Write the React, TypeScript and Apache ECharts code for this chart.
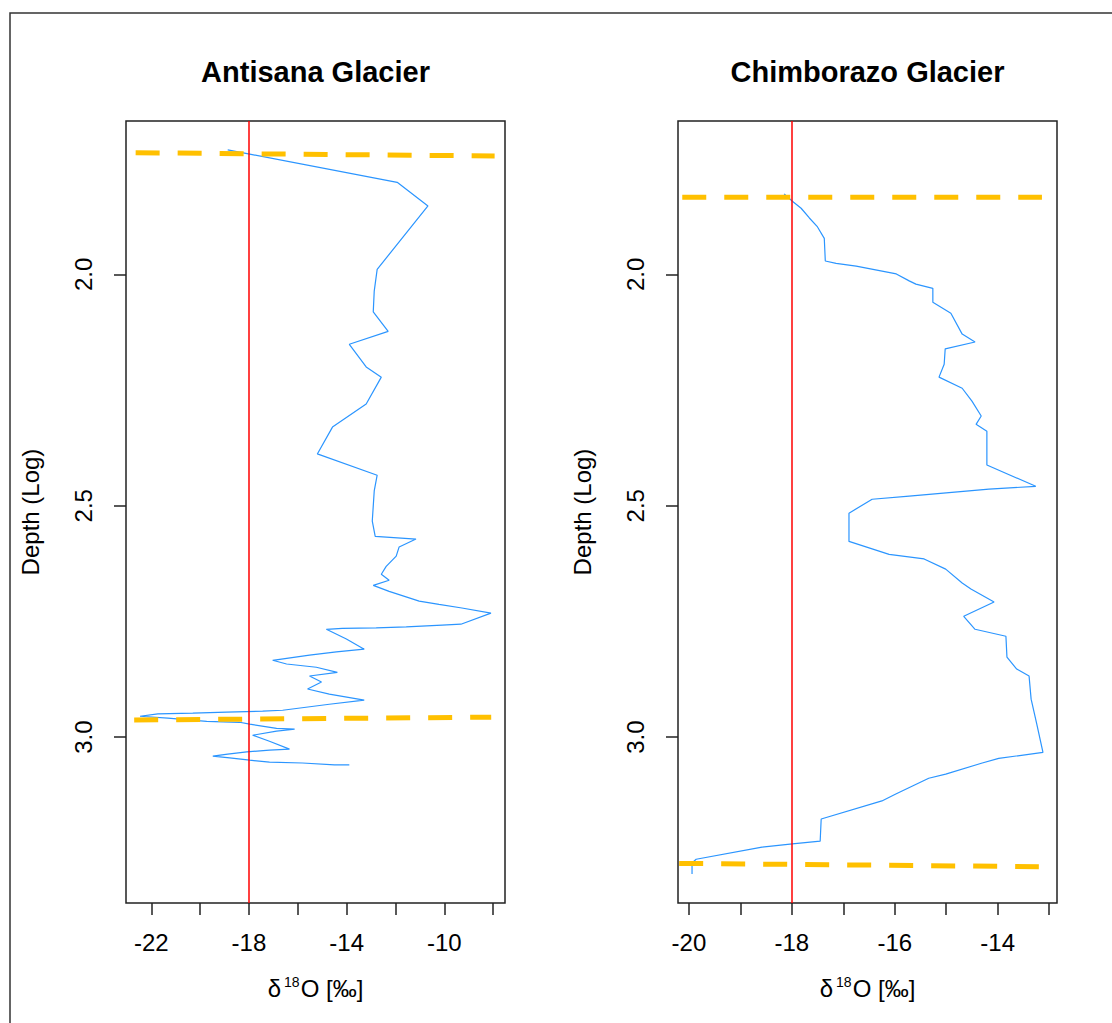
import React, { useEffect, useRef } from "react";
import * as echarts from "echarts";

const FONT = '"Liberation Sans", Arial, Helvetica, sans-serif';

const panelTitles = ["Antisana Glacier", "Chimborazo Glacier"];
const depthAxisName = "Depth (Log)";
const isotopeAxisName = "{d|δ}{s|18}{d|O [‰]}";

// Antisana Glacier profile (δ18O ‰, log depth)
const antisanaD18O = [
  -18.87, -17.97, -11.93, -10.67, -12.75, -12.87, -12.91, -12.3, -13.89, -13.2,
  -12.58, -13.2, -14.58, -15.2, -12.75, -12.87, -12.95, -12.83, -11.16, -11.85,
  -11.97, -12.38, -12.58, -12.26, -12.91, -12.26, -11.03, -10.22, -9.28, -8.09,
  -9.32, -10.09, -11.56, -12.79, -14.18, -14.83, -14.01, -13.28, -14.42, -15.52,
  -17.03, -16.46, -15.24, -14.38, -15.52, -15.03, -15.6, -14.71, -13.28, -14.71,
  -16.62, -17.44, -18.91, -20.3, -21.73, -22.46, -21.32, -19.73, -18.38, -17.97,
  -16.87, -16.13, -16.87, -17.85, -17.16, -16.34, -17.16, -18.09, -18.87, -19.48,
  -18.79, -17.97, -17.16, -15.81, -14.5, -13.89,
];
const antisanaDepth = [
  1.731, 1.74, 1.801, 1.852, 1.989, 2.036, 2.081, 2.123, 2.151, 2.2,
  2.222, 2.28, 2.33, 2.388, 2.434, 2.468, 2.533, 2.566, 2.572, 2.589,
  2.609, 2.631, 2.648, 2.661, 2.672, 2.685, 2.706, 2.713, 2.721, 2.732,
  2.756, 2.758, 2.762, 2.764, 2.765, 2.767, 2.788, 2.81, 2.816, 2.823,
  2.834, 2.842, 2.849, 2.86, 2.868, 2.881, 2.896, 2.907, 2.92, 2.929,
  2.942, 2.944, 2.946, 2.948, 2.95, 2.955, 2.959, 2.966, 2.968, 2.972,
  2.981, 2.983, 2.987, 2.996, 3.009, 3.026, 3.028, 3.032, 3.037, 3.041,
  3.045, 3.05, 3.054, 3.056, 3.06, 3.06,
];

// Chimborazo Glacier profile
const chimborazoD18O = [
  -18.15, -17.99, -17.82, -17.66, -17.51, -17.37, -17.35, -17.14, -16.75, -15.97,
  -15.72, -15.59, -15.26, -15.26, -14.91, -14.69, -14.44, -15.02, -15.04, -15.14,
  -14.69, -14.5, -14.32, -14.42, -14.21, -14.21, -13.26, -14.17, -14.89, -15.72,
  -16.44, -16.89, -16.89, -16.11, -15.43, -15.01, -14.69, -14.52, -14.07, -14.66,
  -14.44, -13.84, -13.82, -13.63, -13.39, -13.35, -13.24, -13.12, -13.98, -14.3,
  -15.01, -15.34, -15.98, -16.25, -17.43, -17.45, -17.99, -18.58, -19.86, -19.94,
  -19.94,
];
const chimborazoDepth = [
  1.826, 1.842, 1.857, 1.878, 1.896, 1.922, 1.971, 1.976, 1.982, 1.999,
  2.014, 2.021, 2.03, 2.06, 2.084, 2.129, 2.146, 2.161, 2.194, 2.222,
  2.246, 2.274, 2.306, 2.324, 2.339, 2.412, 2.458, 2.464, 2.471, 2.479,
  2.486, 2.516, 2.577, 2.605, 2.615, 2.637, 2.667, 2.68, 2.708, 2.739,
  2.767, 2.782, 2.827, 2.853, 2.868, 2.918, 2.972, 3.033, 3.046, 3.056,
  3.08, 3.089, 3.123, 3.138, 3.177, 3.225, 3.231, 3.238, 3.264, 3.272,
  3.296,
];

// Horizontal boundary lines (dashed), endpoints [start, end]
const antisanaBoundX = [[-22.64, -7.94], [-22.7, -8.08]];
const antisanaBoundDepth = [[1.737, 1.744], [2.963, 2.957]];
const chimborazoBoundX = [[-20.13, -13.14], [-20.19, -13.2]];
const chimborazoBoundDepth = [[1.833, 1.833], [3.273, 3.28]];

const referenceD18O = -18;

const antisanaXTicks = [-22, -20, -18, -16, -14, -12, -10, -8];
const antisanaXLabels = [-22, -18, -14, -10];
const chimborazoXTicks = [-20, -19, -18, -17, -16, -15, -14, -13];
const chimborazoXLabels = [-20, -18, -16, -14];
const depthTicks = [2.0, 2.5, 3.0];

function padRange(values: number[]): [number, number] {
  let mn = Infinity;
  let mx = -Infinity;
  values.forEach((v) => {
    if (v < mn) mn = v;
    if (v > mx) mx = v;
  });
  const p = (mx - mn) * 0.04;
  return [mn - p, mx + p];
}

const zip = (xs: number[], ys: number[]) => xs.map((x, i) => [x, ys[i]]);

export default function App() {
  const ref = useRef<HTMLDivElement>(null);

  useEffect(() => {
    document.body.style.margin = "0";
    if (!ref.current) return;
    const chart = echarts.init(ref.current, undefined, { renderer: "svg" });

    const xr1 = padRange(antisanaD18O);
    const xr2 = padRange(chimborazoD18O);
    const yr = padRange(antisanaDepth.concat(chimborazoDepth));

    const gridLeft = [126, 678];
    const gridTop = 121;
    const gridW = 379;
    const gridH = 782;

    const tickStyle = { color: "#222", width: 1.5 };
    const labelBase = { color: "#000", fontFamily: FONT, fontSize: 24 };

    const xAxis = [0, 1].map((i) => ({
      type: "value",
      gridIndex: i,
      min: i === 0 ? xr1[0] : xr2[0],
      max: i === 0 ? xr1[1] : xr2[1],
      position: "bottom",
      axisLine: { show: false },
      splitLine: { show: false },
      axisTick: {
        show: true,
        length: 12,
        inside: false,
        customValues: i === 0 ? antisanaXTicks : chimborazoXTicks,
        lineStyle: tickStyle,
      },
      axisLabel: {
        ...labelBase,
        margin: 27,
        customValues: i === 0 ? antisanaXLabels : chimborazoXLabels,
        formatter: (v: number) => String(v),
      },
      name: isotopeAxisName,
      nameLocation: "middle",
      nameGap: 72,
      nameTextStyle: {
        rich: {
          d: { fontSize: 24, fontFamily: FONT, color: "#000", lineHeight: 26 },
          s: {
            fontSize: 14,
            fontFamily: FONT,
            color: "#000",
            lineHeight: 12,
            verticalAlign: "top",
            padding: [0, 1, 0, 3],
          },
        },
      },
    }));

    const yAxis = [0, 1].map((i) => ({
      type: "value",
      gridIndex: i,
      inverse: true,
      min: yr[0],
      max: yr[1],
      position: "left",
      axisLine: { show: false },
      splitLine: { show: false },
      axisTick: {
        show: true,
        length: 12,
        inside: false,
        customValues: depthTicks,
        lineStyle: tickStyle,
      },
      axisLabel: {
        ...labelBase,
        rotate: 90,
        margin: 31,
        customValues: depthTicks,
        formatter: (v: number) => v.toFixed(1),
      },
      name: depthAxisName,
      nameLocation: "middle",
      nameGap: 84,
      nameRotate: 90,
      nameTextStyle: { color: "#000", fontFamily: FONT, fontSize: 24 },
    }));

    const profile = (i: number, xs: number[], ys: number[]) => ({
      type: "line",
      xAxisIndex: i,
      yAxisIndex: i,
      data: zip(xs, ys),
      symbol: "none",
      showSymbol: false,
      silent: true,
      z: 2,
      clip: true,
      lineStyle: { color: "#2B95FF", width: 1.2 },
      markLine: {
        silent: true,
        symbol: ["none", "none"],
        label: { show: false },
        z: 3,
        lineStyle: { color: "#FF0000", width: 1.5, type: "solid" },
        emphasis: { disabled: true },
        data: [{ xAxis: referenceD18O }],
      },
    });

    const bounds = (i: number, bx: number[][], by: number[][]) =>
      bx.map((xs, k) => ({
        type: "line",
        xAxisIndex: i,
        yAxisIndex: i,
        data: zip(xs, by[k]),
        symbol: "none",
        showSymbol: false,
        silent: true,
        z: 4,
        lineStyle: { color: "#FFC000", width: 5, type: [24, 18], cap: "butt" },
      }));

    chart.setOption({
      animation: false,
      backgroundColor: "#fff",
      grid: gridLeft.map((l) => ({
        left: l,
        top: gridTop,
        width: gridW,
        height: gridH,
        show: true,
        borderColor: "#222",
        borderWidth: 1.5,
        backgroundColor: "transparent",
        containLabel: false,
        outerBoundsMode: "none",
      })),
      xAxis,
      yAxis,
      graphic: [
        {
          type: "rect",
          silent: true,
          shape: { x: 10, y: 13, width: 1300, height: 1200 },
          style: { fill: "none", stroke: "#333", lineWidth: 1.5 },
        },
        ...panelTitles.map((t, i) => ({
          type: "text",
          silent: true,
          x: gridLeft[i] + gridW / 2,
          y: 72,
          style: {
            text: t,
            fontSize: 29,
            fontWeight: "bold",
            fontFamily: FONT,
            fill: "#000",
            align: "center",
            verticalAlign: "middle",
            textAlign: "center",
            textVerticalAlign: "middle",
          },
        })),
      ],
      series: [
        profile(0, antisanaD18O, antisanaDepth),
        profile(1, chimborazoD18O, chimborazoDepth),
        ...bounds(0, antisanaBoundX, antisanaBoundDepth),
        ...bounds(1, chimborazoBoundX, chimborazoBoundDepth),
      ],
    });

    return () => chart.dispose();
  }, []);

  return <div ref={ref} style={{ width: 1112, height: 1023 }} />;
}
